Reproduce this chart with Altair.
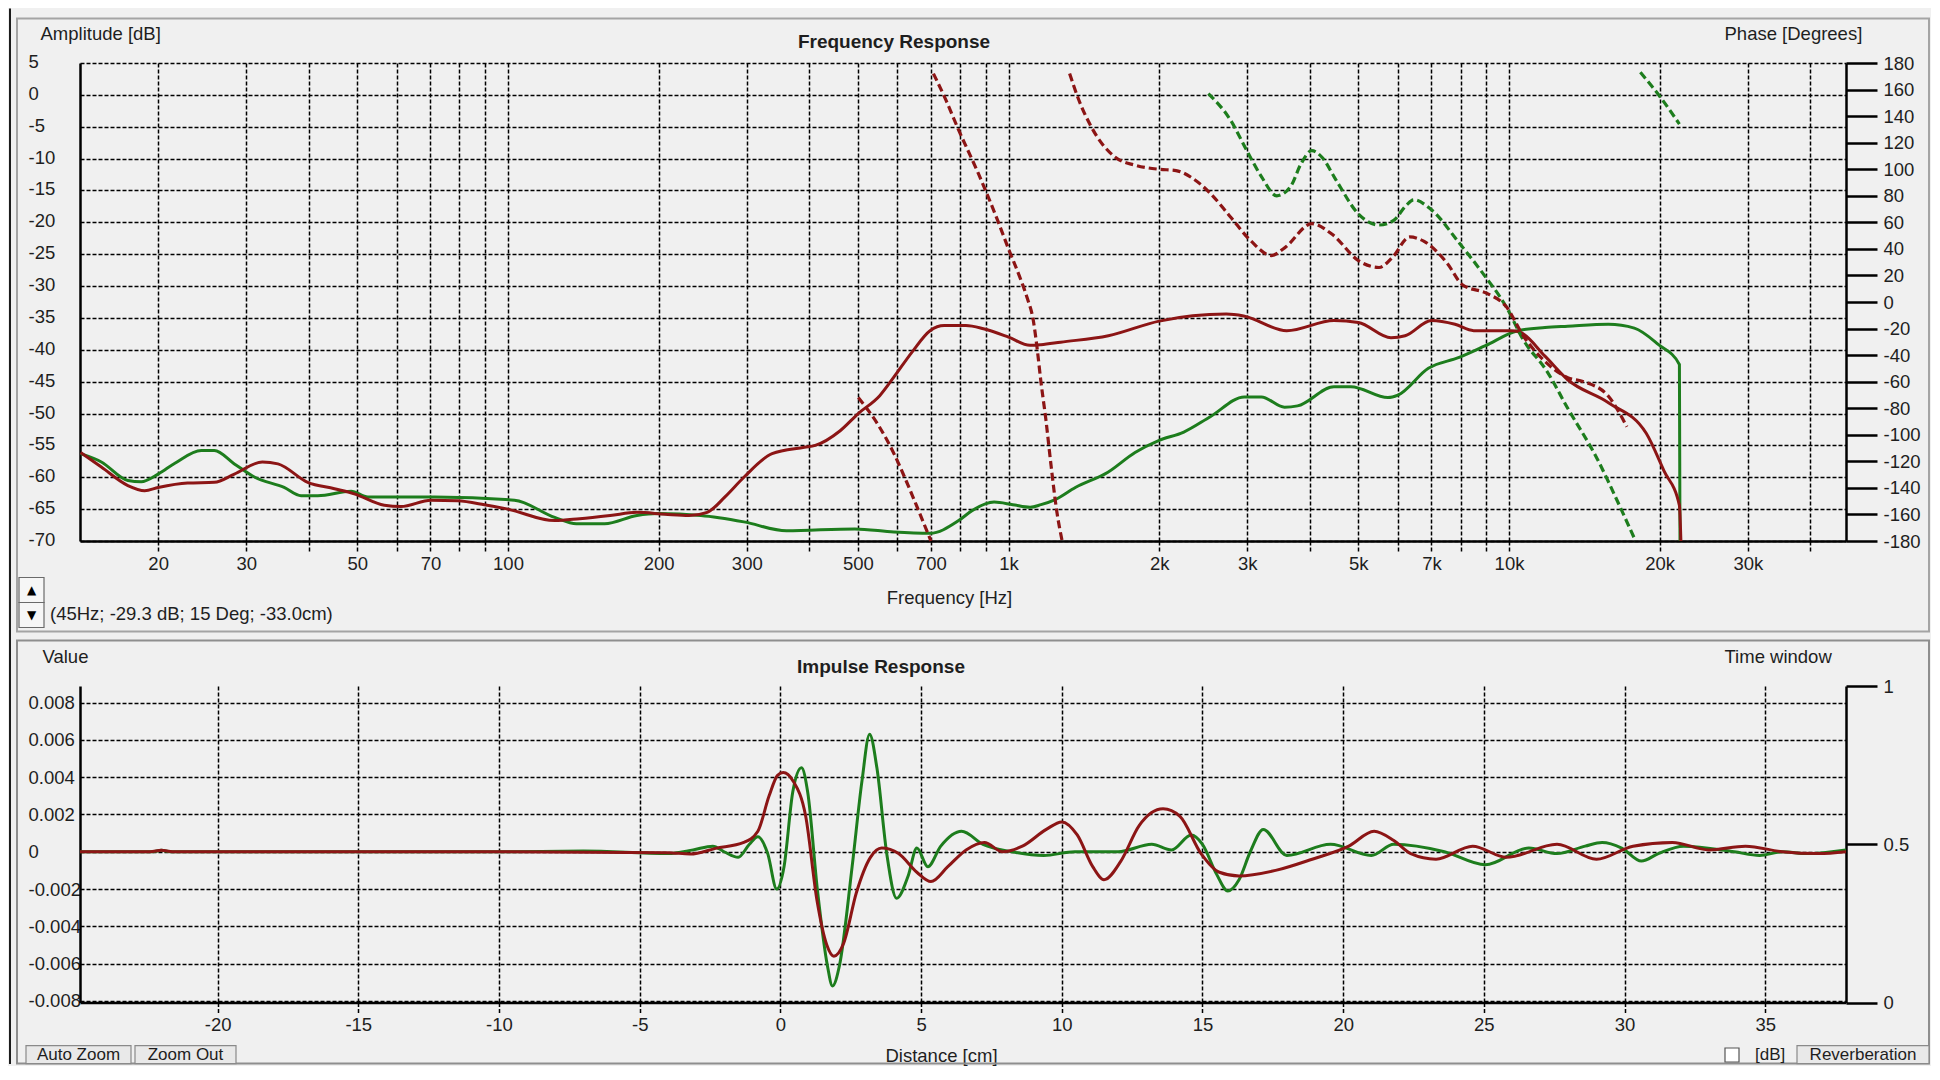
import altair as alt
import pandas as pd

# ---------------- Frequency response (upper panel) ----------------
green_amp_freq = [14, 15.4, 17.4, 18.5, 20, 21.6, 24.4, 25.9, 28.4, 31.2, 35.7, 38.6, 41.7, 48.6, 52.5,
                  71.3, 103, 124, 137, 156, 181, 199, 243, 296, 360, 493, 590, 697, 795, 847,
                  936, 1020, 1104, 1161, 1240, 1360, 1580, 1790, 2000, 2240, 2530, 2960, 3200, 3560, 3780,
                  4470, 4830, 5730, 6000, 6900, 7950, 8950, 10400, 11800, 13100, 15800, 17800, 19900, 21900, 21960]
green_amp_db = [-56.3, -57.6, -60.5, -60.7, -59.5, -57.8, -55.8, -55.8, -57.9, -60.0, -61.6, -62.9, -62.9, -62.2, -63.1,
                -63.1, -63.6, -66.3, -67.3, -67.3, -66.0, -65.7, -66.0, -67.0, -68.4, -68.1, -68.6, -68.8, -66.8, -65.2,
                -63.9, -64.3, -64.7, -64.3, -63.5, -61.6, -59.2, -56.1, -54.2, -52.9, -50.5, -47.4, -47.4, -49.0, -48.8,
                -45.8, -45.8, -47.5, -47.1, -42.9, -41.2, -39.4, -37.0, -36.5, -36.3, -36.0, -36.6, -39.2, -42.3, -70.0]

red_amp_freq = [14, 15.4, 17.4, 18.8, 20, 22.9, 25.9, 28.4, 32.3, 34.7, 39.8, 45, 49.3, 56.6, 61.1,
                70.2, 79.3, 89.7, 100, 124, 139, 160, 181, 206, 230, 250, 272, 296, 337, 391,
                411, 461, 501, 553, 590, 641, 697, 744, 822, 891, 1000, 1104, 1161, 1271, 1583,
                2000, 2723, 2950, 3597, 4470, 5000, 5810, 6200, 7000, 7800, 8500, 10100, 10500, 11800, 13100,
                15800, 18800, 20400, 21900, 22050]
red_amp_db = [-56.1, -58.4, -61.3, -62.1, -61.6, -60.9, -60.8, -59.5, -57.6, -57.9, -60.8, -61.8, -62.6, -64.4, -64.6,
              -63.6, -63.7, -64.3, -65.0, -66.8, -66.5, -66.0, -65.5, -65.8, -66.0, -65.5, -63.0, -60.0, -56.3, -55.3,
              -55.0, -52.7, -50.0, -47.2, -44.3, -40.4, -37.0, -36.2, -36.2, -36.7, -38.0, -39.3, -39.2, -38.8, -37.8,
              -35.5, -34.4, -34.7, -37.0, -35.4, -35.7, -38.1, -37.8, -35.4, -36.0, -37.0, -37.0, -37.2, -41.0, -44.7,
              -48.3, -53.1, -59.0, -64.4, -70.0]

red_phase_a_freq = [501, 550, 590, 625, 661, 700]
red_phase_a_deg = [-72, -93, -114, -135, -157, -180]
red_phase_b_freq = [708, 750, 794, 870, 950, 1000, 1060, 1090, 1121, 1140, 1160, 1188, 1217, 1248, 1280]
red_phase_b_deg = [172, 152, 130, 97, 62, 40, 16, 3, -14, -34, -59, -89, -124, -157, -180]
red_phase_c_freq = [1325, 1376, 1463, 1634, 1791, 1993, 2161, 2336, 2528, 2777, 3050, 3353, 3567, 4037, 4432,
                    5010, 5500, 5860, 6330, 6740, 7530, 8070, 9100, 9850, 10700, 11900, 13100, 14100, 15800, 17200]
red_phase_c_deg = [172, 154, 132, 109, 103, 100, 99, 93, 82, 64, 46, 35, 41, 59, 51,
                   31, 26, 34, 49, 46, 29, 13, 6, -3, -26, -46, -57, -60, -71, -94]
green_phase_d_freq = [2508, 2777, 3003, 3206, 3435, 3662, 3840, 4036, 4230, 4510, 5010, 5500, 5860, 6240, 6450,
                      6970, 7970, 8890, 9850, 10700, 11900, 13100, 15000, 16700, 17900]
green_phase_d_deg = [157, 137, 113, 94, 80, 87, 104, 114, 109, 92, 66, 58, 61, 73, 77,
                     70, 44, 21, -3, -29, -52, -80, -118, -155, -180]
green_phase_e_freq = [18300, 20000, 21900]
green_phase_e_deg = [173, 155, 134]

freq_grid = [20, 30, 40, 50, 60, 70, 80, 90, 100, 200, 300, 400, 500, 600, 700, 800, 900,
             1000, 2000, 3000, 4000, 5000, 6000, 7000, 8000, 9000, 10000, 20000, 30000, 40000]
freq_labels = [20, 30, 50, 70, 100, 200, 300, 500, 700, 1000, 2000, 3000, 5000, 7000, 10000, 20000, 30000]
db_ticks = list(range(-70, 6, 5))
phase_ticks = list(range(-180, 181, 20))

# ---------------- Impulse response (lower panel) ----------------
red_imp_cm = [-24.89, -22.4, -22.0, -21.6, -10.0, -4.0, -3.2, -2.3, -1.3, -0.8, -0.4, -0.1, 0.1, 0.45, 0.9,
              1.3, 1.65, 1.9, 2.25, 2.7, 3.2, 3.6, 4.2, 4.85, 5.35, 5.95, 6.6, 7.25, 7.9, 8.6,
              9.45, 10.0, 10.55, 11.1, 11.5, 12.1, 12.75, 13.6, 14.2, 14.95, 15.6, 16.3, 17.6, 18.9, 20.2,
              21.1, 21.8, 22.4, 23.3, 24.6, 25.8, 27.6, 29.0, 30.3, 31.7, 33.0, 34.3, 35.6, 36.9, 37.87]
red_imp_val = [0, 0, 0.00008, 0, 0, -0.00005, -0.00012, 0.00018, 0.0005, 0.0011, 0.0030, 0.0041, 0.00425, 0.0038, 0.0019,
               -0.0026, -0.0050, -0.0056, -0.0049, -0.0022, -0.0003, 0.0002, -0.0001, -0.0011, -0.0016, -0.0008, 0.0001, 0.0005, 0.0, 0.0003,
               0.0012, 0.0016, 0.0009, -0.0008, -0.0015, -0.0005, 0.0014, 0.0023, 0.0019, -0.0001, -0.0011, -0.0013, -0.0010, -0.0004, 0.0003,
               0.0011, 0.0006, -0.0001, -0.0004, 0.0003, -0.0003, 0.0004, -0.0004, 0.0003, 0.0005, 0.0001, 0.0003, 0.0, -0.0001, 0.0]
green_imp_cm = [-24.89, -22.3, -22.0, -21.7, -10.0, -7.0, -4.0, -3.1, -2.4, -2.0, -1.5, -1.1, -0.8, -0.45, -0.13,
                0.13, 0.44, 0.75, 0.97, 1.32, 1.67, 1.85, 2.1, 2.55, 2.9, 3.17, 3.43, 3.78, 4.13, 4.54,
                4.85, 5.24, 5.7, 6.44, 7.2, 8.22, 9.36, 10.46, 12.0, 13.2, 13.9, 14.6, 15.0, 15.5, 15.9,
                16.3, 16.7, 17.16, 18.0, 19.55, 21.0, 21.8, 23.6, 25.05, 26.6, 27.6, 28.6, 29.2, 29.9, 30.6,
                31.2, 32.1, 33.9, 34.8, 35.6, 36.5, 37.87]
green_imp_val = [0, 0, 0.00008, 0, 0, 0.00004, -0.0001, 0.0001, 0.0003, 0.0, -0.0003, 0.0004, 0.0008, -0.0001, -0.0020,
                 -0.0008, 0.0032, 0.0045, 0.0032, -0.0021, -0.0061, -0.0072, -0.0061, -0.0008, 0.0038, 0.0063, 0.0045, -0.0001, -0.0025, -0.0013,
                 0.0002, -0.0008, 0.0003, 0.0011, 0.0004, 0.0, -0.0002, 0.0, 0.0, 0.0004, 0.0001, 0.0009, 0.0004, -0.0012, -0.0021,
                 -0.0015, 0.0, 0.0012, -0.0002, 0.0004, -0.0002, 0.0004, 0.0, -0.0007, 0.0002, -0.0001, 0.0003, 0.0005, 0.0002, -0.0005,
                 -0.0001, 0.0003, 0.0, -0.0002, 0.0, -0.0001, 0.0001]

dist_ticks = list(range(-20, 36, 5))
value_ticks = [0.008, 0.006, 0.004, 0.002, 0, -0.002, -0.004, -0.006, -0.008]
window_ticks = [0, 0.5, 1]

# ---------------- styling ----------------
FONT = "Liberation Sans"
TXT = "#1e1e1e"
RED = "#8c1515"
GREEN = "#1d7d1d"
BG = "#f0f0f0"
FS = 18.5
W = 1766
H1 = 478
H2 = 316.6


def sdf(xs, ys, xname, yname, series, seg):
    return pd.DataFrame({xname: xs, yname: ys, "series": series, "seg": seg, "ord": list(range(len(xs)))})


amp_df = pd.concat([
    sdf(green_amp_freq, green_amp_db, "freq", "db", "green", "g"),
    sdf(red_amp_freq, red_amp_db, "freq", "db", "red", "r"),
], ignore_index=True)
phase_df = pd.concat([
    sdf(green_phase_d_freq, green_phase_d_deg, "freq", "deg", "green", "gd"),
    sdf(green_phase_e_freq, green_phase_e_deg, "freq", "deg", "green", "ge"),
    sdf(red_phase_a_freq, red_phase_a_deg, "freq", "deg", "red", "ra"),
    sdf(red_phase_b_freq, red_phase_b_deg, "freq", "deg", "red", "rb"),
    sdf(red_phase_c_freq, red_phase_c_deg, "freq", "deg", "red", "rc"),
], ignore_index=True)
imp_df = pd.concat([
    sdf(green_imp_cm, green_imp_val, "cm", "val", "green", "g"),
    sdf(red_imp_cm, red_imp_val, "cm", "val", "red", "r"),
], ignore_index=True)
win_df = pd.DataFrame({"tw": window_ticks})
one = pd.DataFrame({"k": [0]})

color = alt.Color("series:N", scale=alt.Scale(domain=["green", "red"], range=[GREEN, RED]), legend=None)


def axis(**kw):
    d = dict(labelFont=FONT, labelFontSize=FS, labelColor=TXT, titleFont=FONT, titleFontSize=FS,
             titleFontWeight="normal", titleColor=TXT, domainColor="black", domainWidth=2.5,
             labelOverlap=False, labelFlush=False)
    d.update(kw)
    return alt.Axis(**d)


GRID = dict(grid=True, gridColor="black", gridDash=[4, 2], gridWidth=1.5)


def rect(x, x2, y, y2, **kw):
    return alt.Chart(one).mark_rect(**kw).encode(
        x=alt.value(x), x2=alt.value(x2), y=alt.value(y), y2=alt.value(y2))


def label(t, x, y, **kw):
    d = dict(font=FONT, fontSize=FS, color=TXT, align="left", baseline="middle")
    d.update(kw)
    return alt.Chart(one).mark_text(text=t, **d).encode(x=alt.value(x), y=alt.value(y))


# ---------------- upper panel ----------------
freq_expr = ("indexof([" + ",".join(str(v) for v in freq_labels) + "], datum.value) >= 0 ? "
             "(datum.value >= 1000 ? (datum.value / 1000) + 'k' : datum.value + '') : ''")
fscale = alt.Scale(type="log", domain=[13.96, 47130], nice=False)

ax_freq = axis(values=freq_grid, labelExpr=freq_expr, ticks=True, tickSize=10, tickColor="black",
               tickDash=[4, 2], tickWidth=1.5, labelPadding=12, labelBaseline="middle",
               title="Frequency [Hz]", titleX=869, titleY=56.5, titleAlign="center",
               titleBaseline="middle", **GRID)
ax_db = axis(orient="left", values=db_ticks, labelExpr="datum.value + ''", ticks=False, tickSize=0,
             labelAlign="left", labelPadding=52, labelBaseline="middle", labelOffset=-1.5,
             title="Amplitude [dB]", titleAngle=0, titleX=-40, titleY=-29.5, titleAlign="left",
             titleBaseline="middle", **GRID)
ax_phase = axis(orient="right", values=phase_ticks, labelExpr="datum.value + ''", grid=False,
                ticks=True, tickSize=31, tickWidth=2.5, tickColor="black", labelAlign="left",
                labelPadding=6, labelBaseline="middle", title="Phase [Degrees]", titleAngle=0,
                titleX=-122, titleY=-30, titleAlign="left", titleBaseline="middle")

amp = alt.Chart(amp_df).mark_line(strokeWidth=3, interpolate="monotone").encode(
    x=alt.X("freq:Q", scale=fscale, axis=ax_freq),
    y=alt.Y("db:Q", scale=alt.Scale(domain=[-70, 5], nice=False, zero=False), axis=ax_db),
    color=color, detail="seg:N", order="ord:Q")

phase = alt.Chart(phase_df).mark_line(strokeWidth=3.2, strokeDash=[8, 4], interpolate="monotone").encode(
    x=alt.X("freq:Q", scale=fscale, axis=ax_freq),
    y=alt.Y("deg:Q", scale=alt.Scale(domain=[-180, 180], nice=False, zero=False), axis=ax_phase),
    color=color, detail="seg:N", order="ord:Q")

upper_deco = [
    rect(-71, -69, -54.5, 1001, color="#1c1c1c"),
    rect(-63, 1849, -44.5, 568.5, fill="transparent", stroke="#a4a4a4", strokeWidth=2),
    rect(-61, -36, 514.5, 539.5, fill="#f6f6f6", stroke="#6a6a6a", strokeWidth=1.2),
    rect(-61, -36, 539.5, 564.5, fill="#f6f6f6", stroke="#6a6a6a", strokeWidth=1.2),
]
upper_text = [
    label("Frequency Response", 814, -21.5, fontWeight="bold", fontSize=19, align="center"),
    label("▲", -48.5, 527, font="DejaVu Sans", fontSize=12, align="center", color="black"),
    label("▼", -48.5, 552, font="DejaVu Sans", fontSize=12, align="center", color="black"),
    label("(45Hz; -29.3 dB; 15 Deg; -33.0cm)", -30, 551),
]

upper = alt.layer(*upper_deco, amp, phase, *upper_text).resolve_scale(y="independent").properties(
    width=W, height=H1)

# ---------------- lower panel ----------------
ax_dist = axis(values=dist_ticks, labelExpr="datum.value + ''", ticks=True, tickSize=10, tickColor="black",
               tickDash=[4, 2], tickWidth=1.5, labelPadding=12, labelBaseline="middle",
               title="Distance [cm]", titleX=861, titleY=53, titleAlign="center",
               titleBaseline="middle", **GRID)
ax_val = axis(orient="left", values=value_ticks,
              labelExpr="datum.value == 0 ? '0' : (datum.value < 0 ? '-' : '') + format(abs(datum.value), '.3f')",
              ticks=False, tickSize=0, labelAlign="left", labelPadding=52, labelBaseline="middle",
              title="Value", titleAngle=0, titleX=-38, titleY=-29.4, titleAlign="left",
              titleBaseline="middle", **GRID)
ax_win = axis(orient="right", values=window_ticks, labelExpr="datum.value + ''", grid=False,
              ticks=True, tickSize=31, tickWidth=2.5, tickColor="black", labelAlign="left",
              labelPadding=6, labelBaseline="middle", title="Time window", titleAngle=0,
              titleX=-122, titleY=-29.4, titleAlign="left", titleBaseline="middle")

imp = alt.Chart(imp_df).mark_line(strokeWidth=3, interpolate="monotone").encode(
    x=alt.X("cm:Q", scale=alt.Scale(domain=[-24.89, 37.87], nice=False, zero=False), axis=ax_dist),
    y=alt.Y("val:Q", scale=alt.Scale(domain=[-0.00809, 0.00889], nice=False, zero=False), axis=ax_val),
    color=color, detail="seg:N", order="ord:Q")

win = alt.Chart(win_df).mark_point(opacity=0).encode(
    y=alt.Y("tw:Q", scale=alt.Scale(domain=[0, 1], nice=False, zero=False), axis=ax_win))

lower_deco = [
    rect(-63, 1849, -45.4, 377.6, fill="transparent", stroke="#8e8e8e", strokeWidth=2),
    rect(-54, 51, 359.6, 377.6, fill="#e9e9e9", stroke="#8a8a8a", strokeWidth=1.2),
    rect(55, 156, 359.6, 377.6, fill="#e9e9e9", stroke="#8a8a8a", strokeWidth=1.2),
    rect(1645, 1659, 362, 376, fill="#ffffff", stroke="#555555", strokeWidth=1.2),
    rect(1717, 1849, 359.6, 377.6, fill="#e9e9e9", stroke="#8a8a8a", strokeWidth=1.2),
]
lower_text = [
    label("Impulse Response", 801, -19.4, fontWeight="bold", fontSize=19, align="center"),
    label("Auto Zoom", -1.5, 369, fontSize=17, align="center"),
    label("Zoom Out", 105.5, 369, fontSize=17, align="center"),
    label("[dB]", 1675, 369, fontSize=17),
    label("Reverberation", 1783, 369, fontSize=17, align="center"),
]

lower = alt.layer(*lower_deco, imp, win, *lower_text).resolve_scale(y="independent").properties(
    width=W, height=H2)

chart = alt.vconcat(upper, lower, spacing=145, bounds="flush").resolve_scale(
    x="independent", y="independent").properties(padding=0, background=BG).configure_view(
    stroke="transparent")

chart.save("out.html", embed_options={"renderer": "svg", "actions": False})
